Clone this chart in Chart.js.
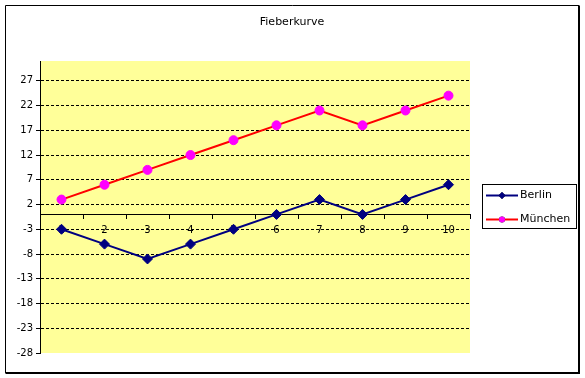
<!DOCTYPE html>
<html>
<head>
<meta charset="utf-8">
<script src="https://cdn.jsdelivr.net/npm/chart.js@4/dist/chart.umd.min.js"></script>
<style>
  body { margin: 0; background: #fff; }
</style>
</head>
<body>
<canvas id="chart" width="585" height="378"></canvas>
<script>
// data
const categories = ['1', '2', '3', '4', '5', '6', '7', '8', '9', '10'];
const berlin = [-3, -6, -9, -6, -3, 0, 3, 0, 3, 6];
const muenchen = [3, 6, 9, 12, 15, 18, 21, 18, 21, 24];
const yTicks = [-28, -23, -18, -13, -8, -3, 2, 7, 12, 17, 22, 27];
const seriesNames = ['Berlin', 'München'];
const titleText = 'Fieberkurve';

const FONT = 'DejaVu Sans';

// white page, outer frame and yellow plot area
const backdrop = {
    id: 'backdrop',
    beforeDraw(chart) {
        const ctx = chart.ctx;
        const a = chart.chartArea;
        ctx.save();
        ctx.fillStyle = '#ffffff';
        ctx.fillRect(0, 0, chart.width, chart.height);
        ctx.strokeStyle = '#000';
        ctx.lineWidth = 1;
        ctx.beginPath();
        ctx.moveTo(5.5, 373);
        ctx.lineTo(5.5, 5.5);
        ctx.lineTo(579, 5.5);
        ctx.stroke();
        ctx.lineWidth = 2;
        ctx.beginPath();
        ctx.moveTo(579, 5.5);
        ctx.lineTo(579, 373);
        ctx.lineTo(5.5, 373);
        ctx.stroke();
        ctx.fillStyle = '#ffff99';
        ctx.fillRect(a.left, a.top, a.right - a.left, a.bottom - a.top);
        ctx.restore();
    }
};

// title and legend box like the spreadsheet one
const extras = {
    id: 'extras',
    afterDraw(chart) {
        const ctx = chart.ctx;
        ctx.save();
        ctx.fillStyle = '#000';
        ctx.font = '11px "' + FONT + '"';
        ctx.textAlign = 'center';
        ctx.textBaseline = 'middle';
        ctx.fillText(titleText, 292, 22);

        ctx.strokeStyle = '#000';
        ctx.lineWidth = 1;
        ctx.strokeRect(482.5, 184.5, 94, 44);
        chart.data.datasets.forEach((ds, i) => {
            const y = 195.5 + i * 24;
            ctx.strokeStyle = ds.borderColor;
            ctx.lineWidth = 2;
            ctx.beginPath();
            ctx.moveTo(486, y);
            ctx.lineTo(518, y);
            ctx.stroke();
            Chart.helpers.drawPoint(ctx, {
                pointStyle: ds.pointStyle,
                radius: ds.pointRadius - 1.5,
                rotation: 0,
                borderWidth: 0
            }, 502, y);
            ctx.fillStyle = ds.pointBackgroundColor;
            ctx.fill();
            ctx.fillStyle = '#000';
            ctx.font = '11px "' + FONT + '"';
            ctx.textAlign = 'left';
            ctx.fillText(ds.label, 520, y);
        });
        ctx.restore();
    }
};

const ctx = document.getElementById('chart').getContext('2d');
const chart = new Chart(ctx, {
    type: 'line',
    data: {
        labels: categories,
        datasets: [{
            label: seriesNames[0],
            data: berlin,
            borderColor: '#000080',
            borderWidth: 2,
            pointStyle: 'rectRot',
            pointRadius: 5,
            pointBackgroundColor: '#000080',
            pointBorderColor: '#000080',
            pointBorderWidth: 1,
            tension: 0
        }, {
            label: seriesNames[1],
            data: muenchen,
            borderColor: '#ff0000',
            borderWidth: 2,
            pointStyle: 'circle',
            pointRadius: 4.5,
            pointBackgroundColor: '#ff00ff',
            pointBorderColor: '#ff00ff',
            pointBorderWidth: 1,
            tension: 0
        }]
    },
    options: {
        responsive: false,
        animation: false,
        devicePixelRatio: 1,
        layout: { padding: { top: 61, right: 115, bottom: 25, left: 0 } },
        plugins: {
            legend: { display: false },
            title: { display: false },
            tooltip: { enabled: false }
        },
        scales: {
            x: {
                type: 'category',
                position: { y: 0 },
                offset: true,
                grid: {
                    offset: true,
                    drawOnChartArea: false,
                    drawTicks: true,
                    tickLength: 4,
                    color: '#000',
                    tickColor: '#000'
                },
                border: { display: true, color: '#000', width: 1 },
                ticks: {
                    color: '#000',
                    padding: 6,
                    maxRotation: 0,
                    autoSkip: false,
                    font: { family: FONT, size: 10 }
                }
            },
            y: {
                min: -28,
                max: 31,
                afterBuildTicks(scale) {
                    scale.ticks = yTicks.map(v => ({ value: v }));
                },
                afterFit(scale) {
                    scale.width = 40;
                },
                grid: {
                    color: c => (c.tick && c.tick.value === -28) ? 'rgba(0,0,0,0)' : '#000',
                    lineWidth: 1,
                    tickLength: 4,
                    tickColor: '#000',
                    tickBorderDash: []
                },
                border: { display: true, color: '#000', width: 1, dash: [3, 2] },
                ticks: {
                    color: '#000',
                    padding: 3,
                    font: { family: FONT, size: 10 }
                }
            }
        }
    },
    plugins: [backdrop, extras]
});
</script>
</body>
</html>
